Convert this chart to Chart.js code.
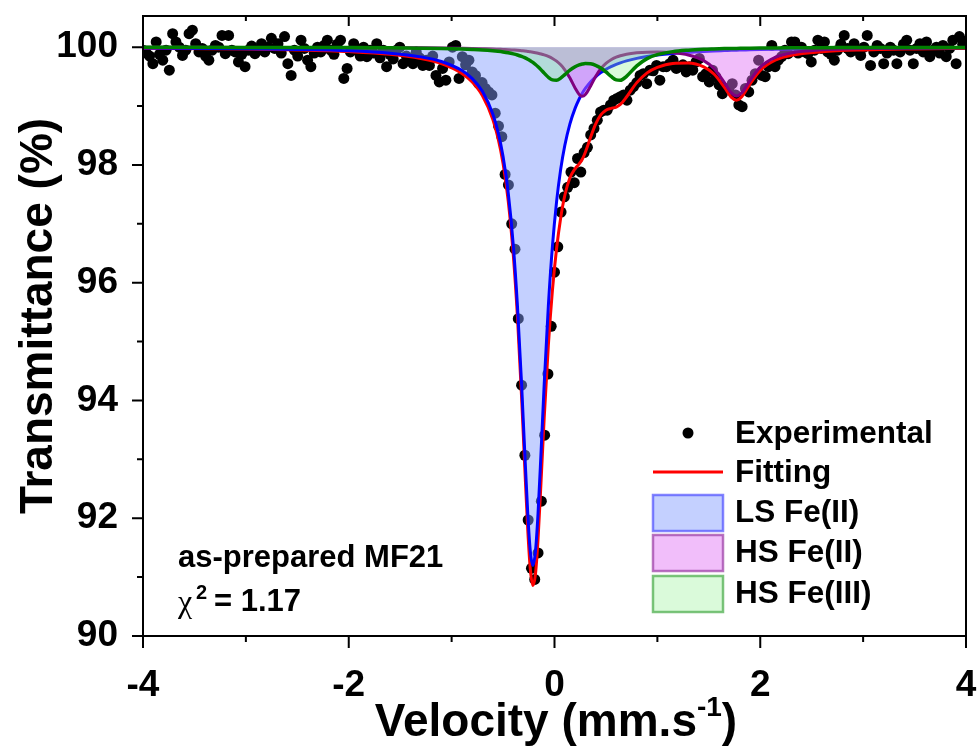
<!DOCTYPE html>
<html>
<head>
<meta charset="utf-8">
<script src="https://cdn.jsdelivr.net/npm/chart.js@4.4.0/dist/chart.umd.min.js"></script>
<style>
html,body{margin:0;padding:0;background:#fff;}
canvas{display:block;}
</style>
</head>
<body>
<canvas id="c" width="979" height="749"></canvas>
<script>
// ---- Experimental Mössbauer spectrum (velocity mm/s, transmittance %) ----
const velocity = [
-4.000,-3.968,-3.936,-3.904,-3.872,-3.840,-3.808,-3.776,-3.744,-3.712,
-3.680,-3.648,-3.616,-3.584,-3.552,-3.520,-3.488,-3.456,-3.424,-3.392,
-3.360,-3.328,-3.296,-3.264,-3.232,-3.200,-3.168,-3.136,-3.104,-3.072,
-3.040,-3.008,-2.976,-2.944,-2.912,-2.880,-2.848,-2.816,-2.784,-2.752,
-2.720,-2.688,-2.656,-2.624,-2.592,-2.560,-2.528,-2.496,-2.464,-2.432,
-2.400,-2.368,-2.336,-2.304,-2.272,-2.240,-2.208,-2.176,-2.144,-2.112,
-2.080,-2.048,-2.016,-1.984,-1.952,-1.920,-1.888,-1.856,-1.824,-1.792,
-1.760,-1.728,-1.696,-1.664,-1.632,-1.600,-1.568,-1.536,-1.504,-1.472,
-1.440,-1.408,-1.376,-1.344,-1.312,-1.280,-1.248,-1.216,-1.184,-1.152,
-1.120,-1.088,-1.056,-1.024,-0.992,-0.960,-0.928,-0.896,-0.864,-0.832,
-0.800,-0.768,-0.736,-0.704,-0.672,-0.640,-0.608,-0.576,-0.544,-0.512,
-0.480,-0.448,-0.416,-0.384,-0.352,-0.320,-0.288,-0.256,-0.224,-0.192,
-0.160,-0.128,-0.096,-0.064,-0.032,0.000,0.032,0.064,0.096,0.128,
0.160,0.192,0.224,0.256,0.288,0.320,0.352,0.384,0.416,0.448,
0.480,0.512,0.544,0.576,0.608,0.640,0.672,0.704,0.736,0.768,
0.800,0.832,0.864,0.896,0.928,0.960,0.992,1.024,1.056,1.088,
1.120,1.152,1.184,1.216,1.248,1.280,1.312,1.344,1.376,1.408,
1.440,1.472,1.504,1.536,1.568,1.600,1.632,1.664,1.696,1.728,
1.760,1.792,1.824,1.856,1.888,1.920,1.952,1.984,2.016,2.048,
2.080,2.112,2.144,2.176,2.208,2.240,2.272,2.304,2.336,2.368,
2.400,2.432,2.464,2.496,2.528,2.560,2.592,2.624,2.656,2.688,
2.720,2.752,2.784,2.816,2.848,2.880,2.912,2.944,2.976,3.008,
3.040,3.072,3.104,3.136,3.168,3.200,3.232,3.264,3.296,3.328,
3.360,3.392,3.424,3.456,3.488,3.520,3.552,3.584,3.616,3.648,
3.680,3.712,3.744,3.776,3.808,3.840,3.872,3.904,3.936,3.968,
4.000];
const transmittance = [
99.95,99.90,99.85,99.72,100.09,99.88,99.78,99.95,99.61,100.23,
100.09,100.00,99.86,99.95,100.23,100.29,100.06,99.92,99.98,99.85,
99.78,99.95,100.03,100.00,100.20,99.89,100.20,99.95,99.92,99.75,
99.88,99.67,99.95,100.02,99.89,99.95,100.06,99.92,100.00,100.15,
99.98,100.06,99.90,100.18,99.72,99.52,99.95,99.85,100.12,99.98,
99.78,99.67,99.90,100.00,99.92,100.03,100.12,99.95,99.88,100.05,
100.12,99.47,99.64,99.92,100.06,99.95,99.85,100.00,99.84,99.95,
99.90,100.06,99.82,99.95,99.67,99.88,99.80,99.95,100.00,99.72,
99.85,99.80,99.72,99.92,99.82,99.69,99.78,99.69,99.85,99.52,
99.41,99.64,99.44,99.75,100.00,100.03,99.47,99.84,99.70,99.78,
99.58,99.52,99.38,99.40,99.30,99.24,99.19,98.88,98.66,98.48,
97.84,97.66,97.00,96.57,95.39,94.26,93.07,91.97,91.15,90.96,
91.41,92.29,93.41,94.45,95.26,96.18,96.61,97.20,97.46,97.62,
97.88,97.70,98.11,97.88,98.21,98.30,98.51,98.62,98.76,98.90,
98.93,98.93,99.02,99.10,99.13,99.16,99.19,99.10,99.27,99.33,
99.40,99.52,99.55,99.38,99.61,99.60,99.69,99.44,99.67,99.67,
99.72,99.78,99.64,99.67,99.70,99.58,99.67,99.61,99.75,99.81,
99.50,99.55,99.41,99.61,99.50,99.36,99.21,99.30,99.30,99.38,
99.19,99.02,98.99,99.30,99.24,99.44,99.55,99.78,99.52,99.50,
99.67,100.03,99.67,99.78,99.84,99.95,99.89,100.09,100.09,99.90,
100.00,99.92,99.89,99.75,99.95,100.12,99.98,100.09,99.92,99.88,
99.78,99.95,100.05,100.20,99.98,99.92,100.06,99.95,99.86,100.00,
100.20,99.69,99.92,100.03,99.98,99.72,99.90,100.00,99.95,99.72,
99.92,100.05,100.12,99.95,99.72,99.98,100.06,99.92,100.09,99.84,
99.95,100.00,99.90,100.03,99.84,99.98,100.12,99.72,100.18,100.05,
100.10];

// ---- Fitted curves (sampled velocities) ----
const fitVelocity = [-4.0,-3.0,-2.5,-2.0,-1.6,-1.3,-1.1,-0.9,-0.8,-0.7,
-0.6,-0.55,-0.5,-0.45,-0.4,-0.36,-0.32,-0.29,-0.26,-0.235,
-0.21,-0.185,-0.16,-0.13,-0.1,-0.06,-0.02,0.02,0.06,0.1,
0.15,0.2,0.24,0.27,0.3,0.35,0.4,0.45,0.5,0.55,
0.6,0.64,0.7,0.8,0.9,1.0,1.15,1.3,1.45,1.55,
1.65,1.72,1.77,1.82,1.9,2.0,2.15,2.3,2.6,3.0,3.5,4.0];
const fitting = [99.982,99.968,99.953,99.925,99.880,99.809,99.722,99.555,99.408,99.175,
98.776,98.463,98.025,97.392,96.460,95.415,94.062,92.906,91.804,91.131,
90.856,91.051,91.645,92.649,93.707,94.933,95.875,96.577,97.101,97.482,
97.783,97.936,98.017,98.098,98.217,98.467,98.694,98.849,98.930,98.961,
98.984,99.028,99.154,99.398,99.564,99.657,99.724,99.731,99.666,99.545,
99.323,99.149,99.101,99.158,99.373,99.606,99.783,99.861,99.923,99.954,99.970,99.979];
const lsFeII = [99.986,99.975,99.962,99.939,99.899,99.836,99.757,99.603,99.466,99.246,
98.866,98.566,98.143,97.528,96.621,95.600,94.278,93.149,92.080,91.438,
91.200,91.438,92.080,93.149,94.278,95.600,96.621,97.374,97.925,98.331,
98.698,98.961,99.120,99.217,99.299,99.411,99.498,99.568,99.624,99.670,
99.708,99.734,99.767,99.810,99.842,99.867,99.894,99.914,99.929,99.937,
99.943,99.947,99.950,99.952,99.956,99.960,99.965,99.969,99.975,99.981,99.986,99.989];
const hsFeII = [99.998,99.997,99.996,99.994,99.992,99.989,99.986,99.982,99.979,99.975,
99.970,99.966,99.962,99.958,99.952,99.947,99.940,99.935,99.928,99.922,
99.915,99.907,99.898,99.885,99.869,99.843,99.809,99.763,99.701,99.617,
99.476,99.307,99.197,99.167,99.196,99.338,99.503,99.634,99.726,99.788,
99.831,99.855,99.881,99.905,99.916,99.917,99.905,99.867,99.772,99.638,
99.404,99.224,99.171,99.225,99.434,99.661,99.830,99.902,99.956,99.978,99.988,99.993];
const hsFeIII = [99.998,99.997,99.995,99.993,99.989,99.984,99.979,99.970,99.963,99.954,
99.940,99.931,99.920,99.906,99.887,99.868,99.844,99.822,99.796,99.771,
99.741,99.706,99.667,99.615,99.560,99.490,99.445,99.440,99.475,99.534,
99.609,99.668,99.700,99.714,99.722,99.718,99.693,99.647,99.580,99.503,
99.445,99.439,99.506,99.683,99.806,99.873,99.925,99.950,99.965,99.971,
99.976,99.978,99.980,99.981,99.983,99.985,99.988,99.990,99.992,99.995,99.996,99.997];

// ---- Axis ticks ----
const xMajorTicks = [-4,-2,0,2,4];
const xMinorTicks = [-3,-1,1,3];
const yMajorTicks = [90,92,94,96,98,100];
const yMinorTicks = [91,93,95,97,99];

const seriesNames = ['Experimental','Fitting','LS Fe(II)','HS Fe(II)','HS Fe(III)'];

const FONT = '"Liberation Sans", Arial, Helvetica, sans-serif';
const pts = (xs, ys) => xs.map((v, i) => ({x: v, y: ys[i]}));

const COLORS = {
  ls:   {line:'#0000ff', fill:'rgba(130,155,255,0.47)', box:'rgba(80,80,255,0.7)'},
  hs2:  {line:'#800080', fill:'rgba(225,110,245,0.45)', box:'rgba(160,70,170,0.75)'},
  hs3:  {line:'#008000', fill:'rgba(150,240,150,0.35)', box:'rgba(90,180,90,0.8)'},
};

const zeroPad = s => { s.paddingLeft = 0; s.paddingRight = 0; s.paddingTop = 0; s.paddingBottom = 0; };

const decor = {
  id: 'decor',
  afterDraw(chart) {
    const {ctx, chartArea: a, scales: {x, y}} = chart;
    ctx.save();
    ctx.strokeStyle = '#000';
    ctx.lineWidth = 2;
    ctx.strokeRect(a.left, a.top, a.right - a.left, a.bottom - a.top);
    ctx.beginPath();
    const tick = (x1, y1, x2, y2) => { ctx.moveTo(x1, y1); ctx.lineTo(x2, y2); };
    xMajorTicks.forEach(v => { const px = x.getPixelForValue(v); tick(px, a.bottom, px, a.bottom + 12); tick(px, a.top, px, a.top + 10); });
    xMinorTicks.forEach(v => { const px = x.getPixelForValue(v); tick(px, a.bottom, px, a.bottom + 6); tick(px, a.top, px, a.top + 5); });
    yMajorTicks.forEach(v => { const py = y.getPixelForValue(v); tick(a.left - 11, py, a.left, py); });
    yMinorTicks.forEach(v => { const py = y.getPixelForValue(v); tick(a.left - 6, py, a.left, py); });
    ctx.stroke();

    ctx.fillStyle = '#000';
    // y title
    ctx.save();
    ctx.translate(52, 316);
    ctx.rotate(-Math.PI / 2);
    ctx.font = 'bold 46px ' + FONT;
    ctx.textAlign = 'center';
    ctx.textBaseline = 'alphabetic';
    ctx.fillText('Transmittance (%)', 0, 0);
    ctx.restore();

    // x title with superscript
    ctx.textAlign = 'left';
    ctx.textBaseline = 'alphabetic';
    const t1 = 'Velocity (mm.s', t2 = '-1', t3 = ')';
    ctx.font = 'bold 46px ' + FONT;
    const w1 = ctx.measureText(t1).width, w3 = ctx.measureText(t3).width;
    ctx.font = 'bold 28px ' + FONT;
    const w2 = ctx.measureText(t2).width;
    let sx = 556 - (w1 + w2 + w3) / 2;
    ctx.font = 'bold 46px ' + FONT;
    ctx.fillText(t1, sx, 736);
    ctx.font = 'bold 28px ' + FONT;
    ctx.fillText(t2, sx + w1, 716);
    ctx.font = 'bold 46px ' + FONT;
    ctx.fillText(t3, sx + w1 + w2, 736);

    // sample annotation
    ctx.font = 'bold 31px ' + FONT;
    ctx.fillText('as-prepared MF21', 178, 567);
    ctx.font = '32px "Liberation Serif", "DejaVu Serif", serif';
    ctx.fillText('χ', 178, 612);
    ctx.font = 'bold 20px ' + FONT;
    ctx.fillText('2', 196, 599);
    ctx.font = 'bold 31px ' + FONT;
    ctx.fillText('= 1.17', 214, 611);

    // legend
    const lx = 653, lw = 70, tx = 735;
    const base = [443, 482, 522, 562, 603];
    ctx.font = 'bold 31.5px ' + FONT;
    seriesNames.forEach((n, i) => ctx.fillText(n, tx, base[i]));
    ctx.beginPath();
    ctx.arc(688, 433, 5.5, 0, Math.PI * 2);
    ctx.fill();
    ctx.strokeStyle = '#ff0000';
    ctx.lineWidth = 3;
    ctx.beginPath(); ctx.moveTo(lx, 472); ctx.lineTo(lx + lw, 472); ctx.stroke();
    const boxes = [[495, COLORS.ls], [535, COLORS.hs2], [576, COLORS.hs3]];
    boxes.forEach(([by, c]) => {
      ctx.fillStyle = '#fff';
      ctx.fillRect(lx, by, lw, 36);
      ctx.fillStyle = c.fill;
      ctx.fillRect(lx, by, lw, 36);
      ctx.strokeStyle = c.box;
      ctx.lineWidth = 2.5;
      ctx.strokeRect(lx, by, lw, 36);
    });
    ctx.restore();
  }
};

const curveCommon = {pointRadius: 0, pointHoverRadius: 0, cubicInterpolationMode: 'monotone', showLine: true};

new Chart(document.getElementById('c'), {
  type: 'scatter',
  data: {
    datasets: [
      Object.assign({label: seriesNames[4], data: pts(fitVelocity, hsFeIII), borderColor: COLORS.hs3.line, borderWidth: 3.5,
        backgroundColor: COLORS.hs3.fill, fill: {value: 100}}, curveCommon),
      Object.assign({label: seriesNames[3], data: pts(fitVelocity, hsFeII), borderColor: COLORS.hs2.line, borderWidth: 3,
        backgroundColor: COLORS.hs2.fill, fill: {value: 100}}, curveCommon),
      Object.assign({label: seriesNames[2], data: pts(fitVelocity, lsFeII), borderColor: COLORS.ls.line, borderWidth: 3,
        backgroundColor: COLORS.ls.fill, fill: {value: 100}}, curveCommon),
      Object.assign({label: seriesNames[1], data: pts(fitVelocity, fitting), borderColor: '#ff0000', borderWidth: 3,
        backgroundColor: 'rgba(0,0,0,0)', fill: false}, curveCommon),
      {label: seriesNames[0], data: pts(velocity, transmittance), showLine: false, pointRadius: 5.5, pointHoverRadius: 5.5,
        pointBackgroundColor: '#000', pointBorderWidth: 0, borderColor: '#000'}
    ]
  },
  options: {
    responsive: false,
    animation: false,
    devicePixelRatio: 1,
    layout: {padding: {top: 16, right: 13, left: 0, bottom: 0}},
    plugins: {legend: {display: false}, tooltip: {enabled: false}},
    events: [],
    scales: {
      x: {
        type: 'linear', min: -4, max: 4,
        afterBuildTicks: s => { s.ticks = xMajorTicks.map(v => ({value: v})); },
        afterFit: s => { s.height = 113; zeroPad(s); },
        grid: {display: false}, border: {display: false},
        ticks: {color: '#000', font: {family: FONT, size: 37, weight: 'bold'}, padding: 20, maxRotation: 0, autoSkip: false,
          callback: v => String(v)}
      },
      y: {
        type: 'linear', min: 90, max: 100.53,
        afterBuildTicks: s => { s.ticks = yMajorTicks.map(v => ({value: v})); },
        afterFit: s => { s.width = 143; zeroPad(s); },
        grid: {display: false}, border: {display: false},
        ticks: {color: '#000', font: {family: FONT, size: 37, weight: 'bold'}, padding: 17, autoSkip: false,
          callback: v => String(v)}
      }
    }
  },
  plugins: [decor]
});
</script>
</body>
</html>
